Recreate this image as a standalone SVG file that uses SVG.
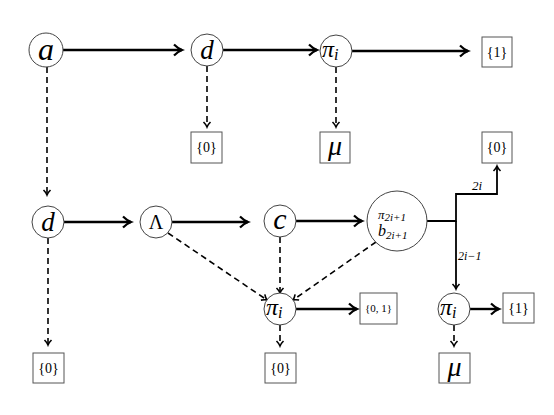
<svg xmlns="http://www.w3.org/2000/svg" width="554" height="415" viewBox="0 0 554 415">
<style>
.n{fill:#fff;stroke:#444;stroke-width:1}
.b{fill:#fff;stroke:#555;stroke-width:1}
.m{font-family:'Liberation Serif','DejaVu Serif','Times New Roman',serif;font-style:italic;fill:#000}
.t{font-family:'Liberation Serif','DejaVu Serif','Times New Roman',serif;fill:#000}
.s{fill:none;stroke:#000;stroke-width:2.4}
.sb{fill:none;stroke:#000;stroke-width:1.8}
.d{fill:none;stroke:#000;stroke-width:1.6;stroke-dasharray:6,4}
</style>
<defs>
<marker id="ah" markerUnits="userSpaceOnUse" markerWidth="14" markerHeight="14" refX="11" refY="7" orient="auto">
<path d="M3,1.5 Q7,5.5 11,7 Q7,8.5 3,12.5" fill="none" stroke="#000" stroke-width="2.2"/>
</marker>
<marker id="ahs" markerUnits="userSpaceOnUse" markerWidth="10" markerHeight="10" refX="8" refY="5" orient="auto">
<path d="M3,1.5 Q5.5,4 8,5 Q5.5,6 3,8.5" fill="none" stroke="#000" stroke-width="1.6"/>
</marker>
</defs>
<g id="connectors">
<line class="s" x1="63" y1="50" x2="182" y2="50" marker-end="url(#ah)"/>
<line class="s" x1="223" y1="50" x2="317" y2="50" marker-end="url(#ah)"/>
<line class="s" x1="352" y1="51" x2="468" y2="51" marker-end="url(#ah)"/>
<line class="d" x1="207" y1="66" x2="207" y2="127" marker-end="url(#ahs)"/>
<line class="d" x1="336" y1="67" x2="336" y2="127" marker-end="url(#ahs)"/>
<line class="d" x1="47" y1="67" x2="47" y2="195" marker-end="url(#ahs)"/>
<line class="s" x1="64" y1="222" x2="131" y2="222" marker-end="url(#ah)"/>
<line class="s" x1="172" y1="222" x2="248" y2="222" marker-end="url(#ah)"/>
<line class="s" x1="296" y1="221" x2="362" y2="221" marker-end="url(#ah)"/>
<path class="sb" d="M427,221 H456 V194 H497 V166" marker-end="url(#ahs)"/>
<path class="sb" d="M456,221 V289" marker-end="url(#ahs)"/>
<text class="m" x="477" y="190" font-size="13" text-anchor="middle">2i</text>
<text class="m" x="458" y="260" font-size="12">2i−1</text>
<line class="d" x1="48" y1="238" x2="48" y2="345" marker-end="url(#ahs)"/>
<line class="d" x1="168" y1="233" x2="267" y2="300" marker-end="url(#ahs)"/>
<line class="d" x1="280" y1="237" x2="280" y2="293" marker-end="url(#ahs)"/>
<line class="d" x1="376" y1="242" x2="293" y2="300" marker-end="url(#ahs)"/>
<line class="s" x1="296" y1="309" x2="357" y2="309" marker-end="url(#ah)"/>
<line class="d" x1="280" y1="325" x2="280" y2="346" marker-end="url(#ahs)"/>
<line class="s" x1="470" y1="309" x2="499" y2="309" marker-end="url(#ah)"/>
<line class="d" x1="454" y1="325" x2="454" y2="346" marker-end="url(#ahs)"/>
</g>
<g id="node-a"><circle class="n" cx="46" cy="50" r="17"/><text class="m" x="46" y="60" font-size="32" text-anchor="middle">a</text></g>
<g id="node-d1"><circle class="n" cx="207" cy="50" r="16"/><text class="m" x="207" y="59" font-size="27" text-anchor="middle">d</text></g>
<g id="node-pi1"><circle class="n" cx="336" cy="51" r="16"/><text class="m" x="322" y="57" font-size="24">π<tspan font-size="16" dy="3">i</tspan></text></g>
<g id="box-1-top"><rect class="b" x="482" y="37" width="30" height="30"/><text class="t" x="497" y="57" font-size="14" text-anchor="middle">{1}</text></g>
<g id="box-0-top"><rect class="b" x="191" y="132" width="31" height="31"/><text class="t" x="206.5" y="152" font-size="14" text-anchor="middle">{0}</text></g>
<g id="box-mu-top"><rect class="b" x="320" y="132" width="30" height="31"/><text class="m" x="335" y="155" font-size="28" text-anchor="middle">μ</text></g>
<g id="box-0-right"><rect class="b" x="482" y="132" width="30" height="31"/><text class="t" x="497" y="152" font-size="14" text-anchor="middle">{0}</text></g>
<g id="node-d2"><circle class="n" cx="48" cy="222" r="16"/><text class="m" x="48" y="231" font-size="27" text-anchor="middle">d</text></g>
<g id="node-lambda"><circle class="n" cx="156" cy="222" r="16"/><text class="t" x="156" y="229" font-size="20" text-anchor="middle">Λ</text></g>
<g id="node-c"><circle class="n" cx="280" cy="221" r="16"/><text class="m" x="280" y="229" font-size="30" text-anchor="middle">c</text></g>
<g id="node-pb"><circle class="n" cx="397" cy="221" r="30"/>
<text class="m" x="378" y="219" font-size="13">π<tspan font-size="11" dy="2">2i+1</tspan></text>
<text class="m" x="378" y="236" font-size="16">b<tspan font-size="11" dy="3">2i+1</tspan></text></g>
<g id="node-pi-mid"><circle class="n" cx="280" cy="309" r="16"/><text class="m" x="266" y="315" font-size="24">π<tspan font-size="16" dy="3">i</tspan></text></g>
<g id="node-pi-right"><circle class="n" cx="454" cy="309" r="16"/><text class="m" x="440" y="315" font-size="24">π<tspan font-size="16" dy="3">i</tspan></text></g>
<g id="box-01"><rect class="b" x="360" y="293" width="37" height="31"/><text class="t" x="378.5" y="312" font-size="11" text-anchor="middle">{0, 1}</text></g>
<g id="box-1-right"><rect class="b" x="503" y="293" width="31" height="30"/><text class="t" x="518.5" y="313" font-size="14" text-anchor="middle">{1}</text></g>
<g id="box-0-mid"><rect class="b" x="265" y="353" width="31" height="30"/><text class="t" x="280.5" y="373" font-size="14" text-anchor="middle">{0}</text></g>
<g id="box-mu-bottom"><rect class="b" x="439" y="353" width="31" height="30"/><text class="m" x="454.5" y="376" font-size="28" text-anchor="middle">μ</text></g>
<g id="box-0-left"><rect class="b" x="33" y="353" width="31" height="30"/><text class="t" x="48.5" y="373" font-size="14" text-anchor="middle">{0}</text></g>
</svg>
